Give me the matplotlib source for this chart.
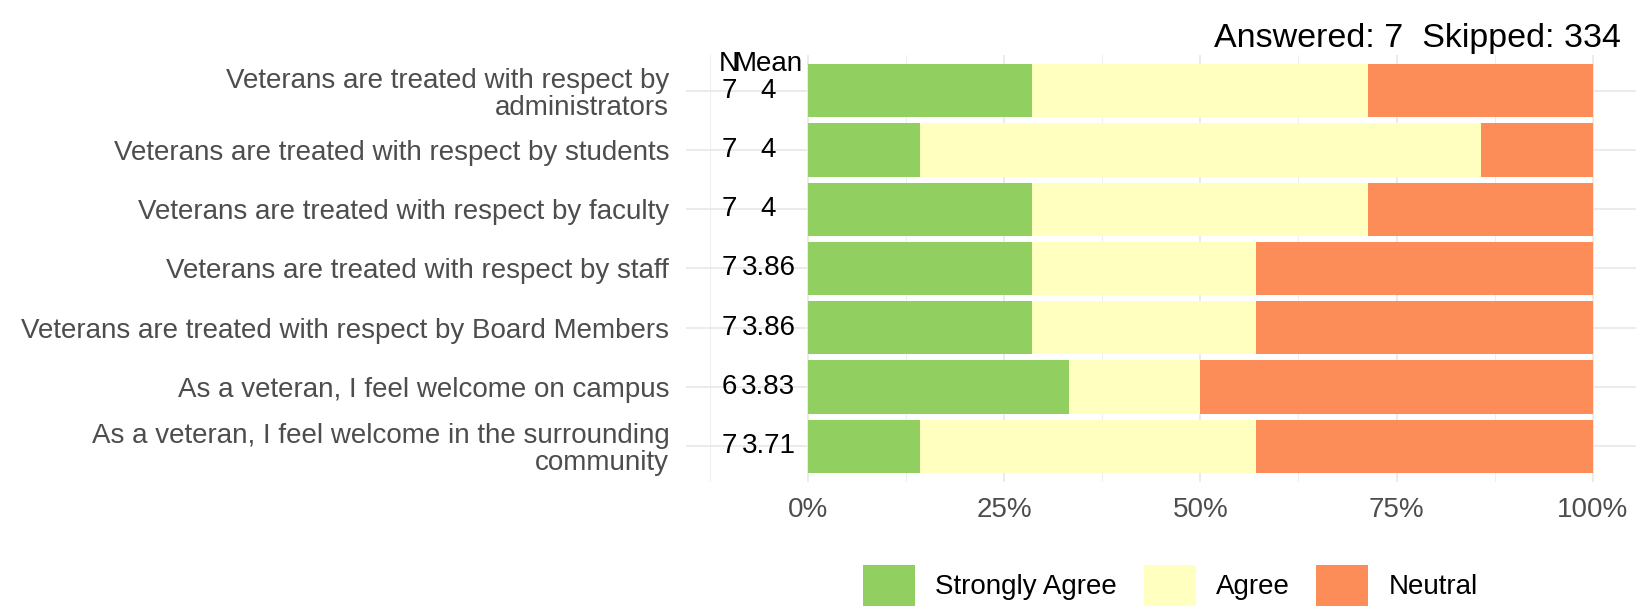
import numpy as np
import matplotlib
matplotlib.use('Agg')
import matplotlib.pyplot as plt
from matplotlib.patches import Patch
from matplotlib.ticker import PercentFormatter, FixedLocator

plt.rcParams['font.family'] = ['Liberation Sans', 'DejaVu Sans']

# survey items, top to bottom
items = [
    "Veterans are treated with respect by\nadministrators",
    "Veterans are treated with respect by students",
    "Veterans are treated with respect by faculty",
    "Veterans are treated with respect by staff",
    "Veterans are treated with respect by Board Members",
    "As a veteran, I feel welcome on campus",
    "As a veteran, I feel welcome in the surrounding\ncommunity",
]

# response counts per item
strongly_agree = np.array([2, 1, 2, 2, 2, 2, 1])
agree = np.array([3, 5, 3, 2, 2, 1, 3])
neutral = np.array([2, 1, 2, 3, 3, 3, 3])

levels = ["Strongly Agree", "Agree", "Neutral"]
colors = ["#91cf60", "#ffffbf", "#fc8d59"]
scores = [5, 4, 3]

answered = 7
skipped = 334

n = strongly_agree + agree + neutral
mean = (strongly_agree * scores[0] + agree * scores[1] + neutral * scores[2]) / n
shares = [strongly_agree / n, agree / n, neutral / n]

fig = plt.figure(figsize=(16.5, 6.07), dpi=100)
ax = fig.add_axes([686 / 1650, 1 - 482 / 607, (1636 - 686) / 1650, (482 - 55) / 607])

y = np.arange(1, len(items) + 1)
left = np.zeros(len(items))
for share, col in zip(shares, colors):
    ax.barh(y, share, left=left, height=0.9, color=col, zorder=2)
    left = left + share

# N / Mean table to the left of the bars
txt = dict(fontsize=20, color='black', ha='center', va='center', zorder=3)
ax.text(-0.1, 0.55, "N", **txt)
ax.text(-0.05, 0.55, "Mean", **txt)
for yi, ni, mi in zip(y, n, mean):
    ax.text(-0.1, yi, str(ni), **txt)
    ax.text(-0.05, yi, f"{round(mi, 2):g}", **txt)

ax.set_xlim(-0.155, 1.055)
ax.set_ylim(7.6, 0.4)
ax.xaxis.set_major_locator(FixedLocator([0, 0.25, 0.5, 0.75, 1.0]))
ax.xaxis.set_minor_locator(FixedLocator([-0.125, 0.125, 0.375, 0.625, 0.875]))
ax.xaxis.set_major_formatter(PercentFormatter(xmax=1, decimals=0))
ax.set_yticks(y)
ax.set_yticklabels(items, linespacing=1.05)

ax.grid(True, which='major', axis='both', color='#e6e6e6', lw=1.1, zorder=0)
ax.grid(True, which='minor', axis='x', color='#eeeeee', lw=0.7, zorder=0)
ax.set_axisbelow(True)
for s in ax.spines.values():
    s.set_visible(False)
ax.tick_params(axis='both', which='both', length=0, labelsize=20, labelcolor='#4d4d4d')
ax.tick_params(axis='y', pad=12)
ax.tick_params(axis='x', pad=11)

fig.text(1621 / 1650, 1 - 39 / 607, f"Answered: {answered}  Skipped: {skipped}",
         ha='right', va='center', fontsize=24.5, color='black')

handles = [Patch(facecolor=c, edgecolor='none', label=l) for c, l in zip(colors, levels)]
fig.legend(handles=handles, loc='upper left', bbox_to_anchor=(863 / 1650, 1 - 565 / 607),
           ncol=3, frameon=False, fontsize=20, borderpad=0, borderaxespad=0,
           handlelength=1.87, handleheight=1.87, handletextpad=0.72, columnspacing=0.97)

fig.savefig('out.png', dpi=100)
